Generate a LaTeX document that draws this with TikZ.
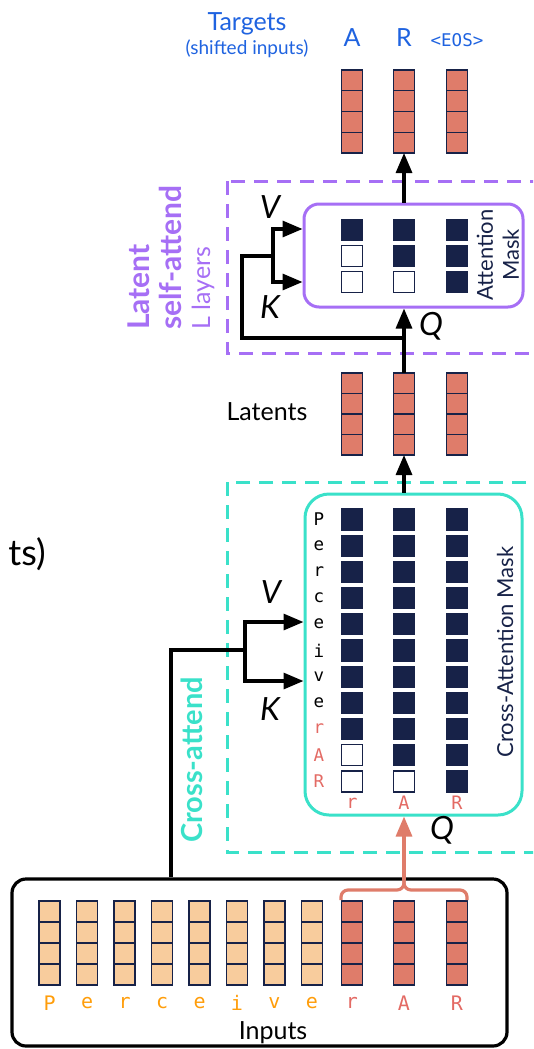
\documentclass[tikz,border=0pt]{standalone}
\usepackage{fontspec}
\setmainfont{Lato}
\setsansfont{Lato}
\setmonofont{DejaVu Sans Mono}
\usetikzlibrary{arrows.meta,calc}
\definecolor{navy}{HTML}{172248}
\definecolor{salmon}{HTML}{DF7C6A}
\definecolor{peach}{HTML}{F8CC9D}
\definecolor{purp}{HTML}{A66FF5}
\definecolor{tealc}{HTML}{3AE1C9}
\definecolor{tblue}{HTML}{1F63E0}
\definecolor{orng}{HTML}{FF9D0A}
\definecolor{redtxt}{HTML}{E36A64}
\newcommand\tokcol[5]{% name, x, ycenter, height, fill
  \node[colbox, fill=#5, minimum height=#4pt] (#1) at (#2,#3) {};
  \foreach \f in {0.25,0.5,0.75}
    \draw[navy, line width=1.3pt] ($(#1.north west)!\f!(#1.south west)$) -- ($(#1.north east)!\f!(#1.south east)$);
}
\tikzset{
  colbox/.style={draw=navy, line width=1.3pt, minimum width=21pt, inner sep=0pt, outer sep=0pt},
  mcell/.style={draw=navy, line width=1.2pt, minimum width=21pt, minimum height=21pt, inner sep=0pt},
  mfull/.style={mcell, fill=navy},
  mempty/.style={mcell, fill=white},
  conn/.style={black, line width=3.2pt},
  arr/.style={conn, -{Triangle[length=20pt,width=16pt]}},
  sarr/.style={salmon, line width=3.2pt, -{Triangle[length=20pt,width=16pt]}},
  fsbig/.style={font=\fontsize{25}{30}\selectfont},
  kvq/.style={font=\fontsize{32}{36}\selectfont\itshape},
  rowlet/.style={font=\fontsize{17.5}{20}\ttfamily, inner sep=0pt},
  inlet/.style={font=\fontsize{20}{24}\ttfamily, inner sep=0pt},
}
\begin{document}
\begin{tikzpicture}[x=1pt,y=-1pt]
\useasboundingbox (0,0) rectangle (533,1049);
\clip (0,0) rectangle (533,1049);

% ---- partial text at left edge
\node[anchor=east, inner sep=0pt, font=\fontsize{36}{40}\selectfont] (cut) at (46,554) {ts)};

% ---- Targets
\node[fsbig, text=tblue] (tgt) at (247,24) {Targets};
\node[text=tblue, font=\fontsize{19}{22}\selectfont] (tgtsub) at (247,49) {(shifted inputs)};
\node[fsbig, text=tblue] (tA) at (352,38) {A};
\node[fsbig, text=tblue] (tR) at (404,38) {R};
\node[text=tblue, font=\fontsize{17.5}{20}\ttfamily] (tE) at (457,40) {<EOS>};
\tokcol{t1}{352}{111.5}{83}{salmon}
\tokcol{t2}{404}{111.5}{83}{salmon}
\tokcol{t3}{457}{111.5}{83}{salmon}

% ---- Latent self-attend
\draw[purp, line width=3pt, dash pattern=on 14pt off 9pt] (227,181) rectangle (570,353);
\node[draw=purp, line width=3pt, rounded corners=15pt, minimum width=219pt, minimum height=103pt, inner sep=0pt] (attn) at (413.5,255.5) {};
\foreach \x/\c in {352/1,404/2,457/3}{
  \foreach \r/\y in {1/230,2/256,3/282}{
    \ifnum\r>\c
      \node[mempty] (m\c\r) at (\x,\y) {};
    \else
      \node[mfull] (m\c\r) at (\x,\y) {};
    \fi
  }
}
\node[rotate=90, text=navy, align=center, font=\fontsize{22}{26}\selectfont] (amask) at (498,255) {Attention\\Mask};
\node[rotate=90, anchor=west, inner sep=0pt, text=purp, font=\fontsize{30}{34}\selectfont\bfseries] (latA) at (139,330) {Latent};
\node[rotate=90, anchor=west, inner sep=0pt, text=purp, font=\fontsize{30}{34}\selectfont\bfseries] (latB) at (170,330) {self-attend};
\node[rotate=90, anchor=west, inner sep=0pt, text=purp, font=\fontsize{25}{28}\selectfont] (latC) at (203,330) {L layers};

% ---- Latents
\node[fsbig] (latents) at (267,412) {Latents};
\tokcol{l1}{352}{414}{82}{salmon}
\tokcol{l2}{404}{414}{82}{salmon}
\tokcol{l3}{457}{414}{82}{salmon}

% connectors latent block
\draw[arr] (attn.north -| t2.south) -- (t2.south);
\draw[arr] (l2.north) -- (l2.north |- attn.south);
\coordinate (qj) at (404,338);
\coordinate (qc) at (242,338);
\coordinate (qu) at (242,256);
\coordinate (fk) at (273,256);
\coordinate (sv) at (273,229);
\coordinate (sk) at (273,282);
\draw[conn, line join=miter] (qj) -- (qc) -- (qu) -- (fk);
\draw[conn] (sv) -- (sk);
\draw[arr] ([xshift=-1.6pt]sv) -- (attn.west |- sv);
\draw[arr] ([xshift=-1.6pt]sk) -- (attn.west |- sk);
\node[kvq] (lV) at (270,207) {V};
\node[kvq] (lK) at (270,307) {K};
\node[kvq] (lQ) at (431,326) {Q};

% ---- Cross-attend
\draw[tealc, line width=3pt, dash pattern=on 14pt off 9pt] (227,482) rectangle (570,852);
\node[draw=tealc, line width=3pt, rounded corners=24pt, minimum width=217pt, minimum height=321pt, inner sep=0pt] (xattn) at (413.5,654.5) {};
\foreach \L/\col [count=\i] in {P/black,e/black,r/black,c/black,e/black,i/black,v/black,e/black,r/redtxt,A/redtxt,R/redtxt}{
  \pgfmathsetmacro{\yy}{519.4+(\i-1)*26.2}
  \node[rowlet, text=\col] (rl\i) at (319,\yy) {\L};
  \node[mfull] (x3r\i) at (457,\yy) {};
  \ifnum\i>10 \node[mempty] (x2r\i) at (404,\yy) {}; \else \node[mfull] (x2r\i) at (404,\yy) {}; \fi
  \ifnum\i>9 \node[mempty] (x1r\i) at (352,\yy) {}; \else \node[mfull] (x1r\i) at (352,\yy) {}; \fi
}
\node[font=\fontsize{18.5}{22}\ttfamily, text=redtxt] (br) at (352,803) {r};
\node[font=\fontsize{18.5}{22}\ttfamily, text=redtxt] (bA) at (404,803) {A};
\node[font=\fontsize{18.5}{22}\ttfamily, text=redtxt] (bR) at (457,803) {R};
\node[rotate=90, text=navy, font=\fontsize{22}{26}\selectfont] (xmask) at (505,652) {Cross-Attention Mask};
\node[rotate=90, text=tealc, font=\fontsize{29}{32}\selectfont\bfseries] (xlab) at (192,760) {Cross-attend};

\draw[arr] (xattn.north -| l2.south) -- (l2.south);

% ---- Inputs
\node[draw=black, line width=3.2pt, rounded corners=14pt, minimum width=495pt, minimum height=167pt, inner sep=0pt] (inbox) at (259.5,962.5) {};
\foreach \L [count=\i] in {P,e,r,c,e,i,v,e}{
  \pgfmathsetmacro{\xx}{49.6+(\i-1)*37.48}
  \tokcol{in\i}{\xx}{943}{84}{peach}
  \node[inlet, text=orng] (il\i) at (\xx,1003) {\L};
}
\tokcol{in9}{352}{943}{84}{salmon}
\tokcol{in10}{404}{943}{84}{salmon}
\tokcol{in11}{457}{943}{84}{salmon}
\node[inlet, text=redtxt] (il9) at (352,1003) {r};
\node[inlet, text=redtxt] (il10) at (404,1003) {A};
\node[inlet, text=redtxt] (il11) at (457,1003) {R};
\node[fsbig] (inputs) at (273,1033) {Inputs};

% brace
\coordinate (bl) at (341,900);
\coordinate (brr) at (467,900);
\coordinate (bc) at (404,890);
\coordinate (btop) at (404,880);
\draw[salmon, line width=3.2pt, rounded corners=7pt] (bl) -- (341,890) -- (bc) -- (btop);
\draw[salmon, line width=3.2pt, rounded corners=7pt] (brr) -- (467,890) -- (bc) -- (btop);
\draw[sarr] (btop) -- (xattn.south -| btop);

% cross K/V connectors
\coordinate (cb) at (171,650);
\coordinate (cf) at (245,650);
\coordinate (cv) at (245,622);
\coordinate (ck) at (245,681);
\draw[conn, line join=miter] (inbox.north -| cb) -- (cb) -- (cf);
\draw[conn] (cv) -- (ck);
\draw[arr] ([xshift=-1.6pt]cv) -- (xattn.west |- cv);
\draw[arr] ([xshift=-1.6pt]ck) -- (xattn.west |- ck);
\node[kvq] (xV) at (271,592) {V};
\node[kvq] (xK) at (270,709) {K};
\node[kvq] (xQ) at (442,830) {Q};
\end{tikzpicture}
\end{document}
